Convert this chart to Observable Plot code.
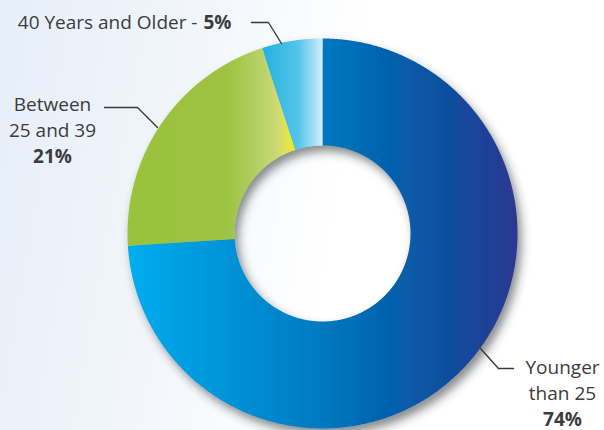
<!DOCTYPE html>
<html><head><meta charset="utf-8">
<script src="https://cdn.jsdelivr.net/npm/d3@7"></script>
<script src="https://cdn.jsdelivr.net/npm/@observablehq/plot@0.6"></script>
<style>
html,body{margin:0;padding:0;background:#fff;}
#chart{width:604px;height:430px;}
</style></head><body><div id="chart"></div>
<script>
// ---- data ----
const categories = ["Younger than 25", "Between 25 and 39", "40 Years and Older"];
const shares = [74, 21, 5];
const labelText = ["Younger\nthan 25", "Between\n25 and 39", "40 Years and Older -"];
const valueText = ["74%", "21%", "5%"];

// ---- styles / layout (not data) ----
const W = 604, H = 430;
const ring = {cx: 322, cy: 233, outer: 195, inner: 88};
const gradients = [
  [[0, "#00aeef"], [0.5, "#0079c0"], [0.8, "#0a50a0"], [1, "#2c3892"]],
  [[0, "#9ac23c"], [0.6, "#9dc342"], [0.8, "#b8d26a"], [0.9, "#cedb72"], [0.96, "#e8e548"], [1, "#f4ea10"]],
  [[0, "#22b2df"], [0.6, "#55c4ea"], [1, "#d4eefa"]]
];
// label layout in pixels: text anchor, alignment, leader polyline
const labelLayout = [
  {x: 562, y: 399, anchor: "middle", vx: 562, vy: 425, vanchor: "middle", leader: [[480, 348], [498, 368], [513, 368]]},
  {x: 52, y: 136, anchor: "middle", vx: 52, vy: 162, vanchor: "middle", leader: [[157, 127], [137, 107], [104, 107]]},
  {x: 197, y: 28, anchor: "end", vx: 203, vy: 28, vanchor: "start", leader: [[281, 43], [268, 22], [251, 22]]}
];

// ---- geometry from data via d3.pie ----
const arcs = d3.pie().sort(null).value(d => d)(shares);
const rIn = ring.inner / ring.outer;
function slicePoints(a, i) {
  const n = Math.max(12, Math.ceil((a.endAngle - a.startAngle) * 180 / Math.PI * 3));
  const pts = [];
  for (let k = 0; k <= n; k++) {
    const t = a.startAngle + (a.endAngle - a.startAngle) * k / n;
    pts.push({slice: categories[i], u: Math.sin(t), v: Math.cos(t)});
  }
  for (let k = n; k >= 0; k--) {
    const t = a.startAngle + (a.endAngle - a.startAngle) * k / n;
    pts.push({slice: categories[i], u: rIn * Math.sin(t), v: rIn * Math.cos(t)});
  }
  return pts;
}
const toU = px => (px - ring.cx) / ring.outer;
const toV = py => (ring.cy - py) / ring.outer;

const font = "'Open Sans', 'Noto Sans', sans-serif";
const fs = 19;

const marks = [];
arcs.forEach((a, i) => {
  marks.push(Plot.line(slicePoints(a, i), {x: "u", y: "v", fill: `url(#grad${i})`, stroke: "none"}));
});
labelLayout.forEach((L, i) => {
  marks.push(Plot.line(L.leader.map(([px, py]) => ({u: toU(px), v: toV(py)})), {x: "u", y: "v", stroke: "#3a3a3a", strokeWidth: 1.4}));
  marks.push(Plot.text([labelText[i]], {x: () => toU(L.x), y: () => toV(L.y), text: d => d, textAnchor: L.anchor, lineAnchor: "bottom", lineHeight: 26 / fs, fontSize: fs, fill: "#3c3c3c", fontFamily: font}));
  marks.push(Plot.text([valueText[i]], {x: () => toU(L.vx), y: () => toV(L.vy), text: d => d, textAnchor: L.vanchor, lineAnchor: "bottom", fontSize: fs, fontWeight: "bold", fill: "#3c3c3c", fontFamily: font}));
});

const svg = Plot.plot({
  width: W, height: H,
  margin: 0,
  x: {domain: [-1, 1], range: [ring.cx - ring.outer, ring.cx + ring.outer], axis: null},
  y: {domain: [-1, 1], range: [ring.cy + ring.outer, ring.cy - ring.outer], axis: null},
  style: {background: "linear-gradient(100deg, #e6eef8 0%, #f2f6fb 30%, #ffffff 55%, #ffffff 100%)", fontFamily: font},
  marks
});

// gradients and drop shadow
const defs = d3.select(svg).insert("defs", ":first-child");
gradients.forEach((stops, i) => {
  const lg = defs.append("linearGradient").attr("id", "grad" + i).attr("x1", 0).attr("x2", 1).attr("y1", 0).attr("y2", 0);
  stops.forEach(([o, c]) => lg.append("stop").attr("offset", o).attr("stop-color", c));
});
const f = defs.append("filter").attr("id", "shadow").attr("x", "-20%").attr("y", "-20%").attr("width", "140%").attr("height", "140%");
f.append("feDropShadow").attr("dx", 4).attr("dy", 6).attr("stdDeviation", 5).attr("flood-color", "#2a2e33").attr("flood-opacity", 0.55);
const lineGroups = Array.from(svg.querySelectorAll(':scope > g[aria-label="line"]'));
const sliceGroups = lineGroups.filter(g => (g.querySelector("path")?.getAttribute("fill") || "").startsWith("url(") || (g.getAttribute("fill") || "").startsWith("url("));
if (sliceGroups.length) {
  const wrap = document.createElementNS("http://www.w3.org/2000/svg", "g");
  wrap.setAttribute("filter", "url(#shadow)");
  sliceGroups[0].before(wrap);
  sliceGroups.forEach(g => wrap.appendChild(g));
}

document.getElementById("chart").appendChild(svg);
</script></body></html>
